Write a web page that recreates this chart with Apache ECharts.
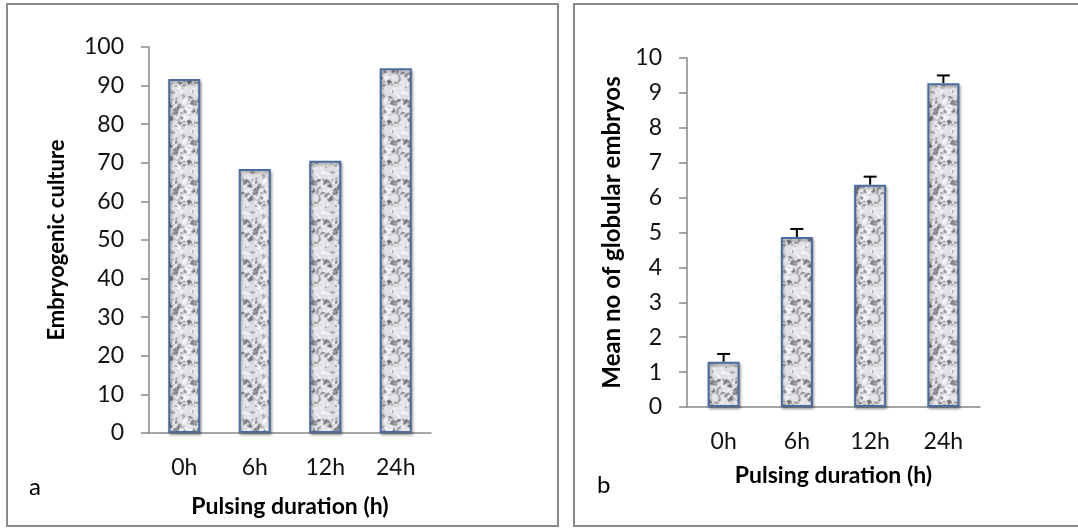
<!DOCTYPE html>
<html>
<head>
<meta charset="utf-8">
<script src="https://cdn.jsdelivr.net/npm/echarts@6/dist/echarts.min.js"></script>
<style>
html,body{margin:0;padding:0;background:#fff;}
#main{width:1078px;height:528px;}
</style>
</head>
<body>
<div id="main"></div>
<script>
var categories=['0h','6h','12h','24h'];
var cultureValues=[91.7,68.4,70.5,94.5];
var cultureTicks=[0,100,10];
var embryoMeans=[1.3,4.87,6.37,9.28];
var embryoErrors=[0.22,0.23,0.23,0.22];
var embryoTicks=[0,10,1];

var FONT='Lato';

// granite-like texture for the bars (fill pattern only)
function makeTexture(){
	var S=40;
	var c=document.createElement('canvas');
	c.width=S;c.height=S;
	var ctx=c.getContext('2d');
	ctx.fillStyle='#dfdfe1';
	ctx.fillRect(0,0,S,S);
	function h(i){var x=Math.sin(i*12.9898+78.233)*43758.5453;return x-Math.floor(x);}
	for(var i=0;i<260;i++){
		var x=h(i)*S,y=h(i+500)*S,r=0.6+h(i+1000)*1.8;
		var t=h(i+1500);
		var g=t<0.32?Math.floor(90+t*200):Math.floor(205+t*50);
		ctx.fillStyle='rgba('+g+','+g+','+(g+5)+',0.7)';
		for(var dx=-S;dx<=S;dx+=S){
			for(var dy=-S;dy<=S;dy+=S){
				ctx.beginPath();
				ctx.ellipse(x+dx,y+dy,r*1.4,r*0.8,h(i+2000)*3,0,Math.PI*2);
				ctx.fill();
			}
		}
	}
	return c;
}
var tex=makeTexture();

var barStyle={
	color:{image:tex,repeat:'repeat'},
	borderColor:'#4a6c9e',
	borderWidth:2,
	shadowColor:'rgba(0,0,0,0.35)',
	shadowBlur:3,
	shadowOffsetX:1,
	shadowOffsetY:2
};

function yAx(idx,ticks,name,gap,fs){
	return {
		gridIndex:idx,type:'value',min:ticks[0],max:ticks[1],interval:ticks[2],
		name:name,nameLocation:'middle',nameGap:gap,
		nameTextStyle:{fontFamily:FONT,fontSize:fs,fontWeight:'bold',color:'#000'},
		axisLine:{show:true,lineStyle:{color:'#888',width:1.5}},
		axisTick:{show:true,length:8,lineStyle:{color:'#888',width:1.5}},
		axisLabel:{fontFamily:FONT,fontSize:23,color:'#111',margin:25},
		splitLine:{show:false}
	};
}
function xAx(idx,gap){
	return {
		gridIndex:idx,type:'category',data:categories,
		name:'Pulsing duration (h)',nameLocation:'middle',nameGap:gap,
		nameTextStyle:{fontFamily:FONT,fontSize:23,fontWeight:'bold',color:'#000'},
		axisLine:{show:true,lineStyle:{color:'#888',width:1.5}},
		axisTick:{show:false},
		axisLabel:{fontFamily:FONT,fontSize:23,color:'#111',margin:23},
		splitLine:{show:false}
	};
}

var chart=echarts.init(document.getElementById('main'));
var option={
	animation:false,
	grid:[
		{left:149,right:647,top:47,bottom:95},
		{left:687,right:98,top:58,bottom:121}
	],
	xAxis:[xAx(0,62),xAx(1,57)],
	yAxis:[
		yAx(0,cultureTicks,'Embryogenic culture',81,22),
		yAx(1,embryoTicks,'Mean no of globular embryos',63,24)
	],
	graphic:[
		{type:'rect',shape:{x:7,y:4,width:551,height:522},style:{fill:'none',stroke:'#8a8a8a',lineWidth:2},silent:true},
		{type:'rect',shape:{x:574,y:4,width:520,height:522},style:{fill:'none',stroke:'#8a8a8a',lineWidth:2},silent:true},
		{type:'text',left:29,top:475,style:{text:'a',font:'24px '+FONT,fill:'#000'}},
		{type:'text',left:597,top:473,style:{text:'b',font:'24px '+FONT,fill:'#000'}}
	],
	series:[
		{type:'bar',xAxisIndex:0,yAxisIndex:0,data:cultureValues,barWidth:32,itemStyle:barStyle},
		{type:'bar',xAxisIndex:1,yAxisIndex:1,data:embryoMeans,barWidth:32,itemStyle:barStyle},
		{
			type:'custom',xAxisIndex:1,yAxisIndex:1,z:5,
			data:embryoMeans.map(function(m,i){return [i,m,m+embryoErrors[i]];}),
			renderItem:function(params,api){
				var p0=api.coord([api.value(0),api.value(1)]);
				var p1=api.coord([api.value(0),api.value(2)]);
				var w=6.5;
				return {type:'group',children:[
					{type:'line',shape:{x1:p0[0],y1:p0[1],x2:p1[0],y2:p1[1]},style:{stroke:'#000',lineWidth:2}},
					{type:'line',shape:{x1:p1[0]-w,y1:p1[1],x2:p1[0]+w,y2:p1[1]},style:{stroke:'#000',lineWidth:2}}
				]};
			}
		}
	]
};
chart.setOption(option);
</script>
</body>
</html>
